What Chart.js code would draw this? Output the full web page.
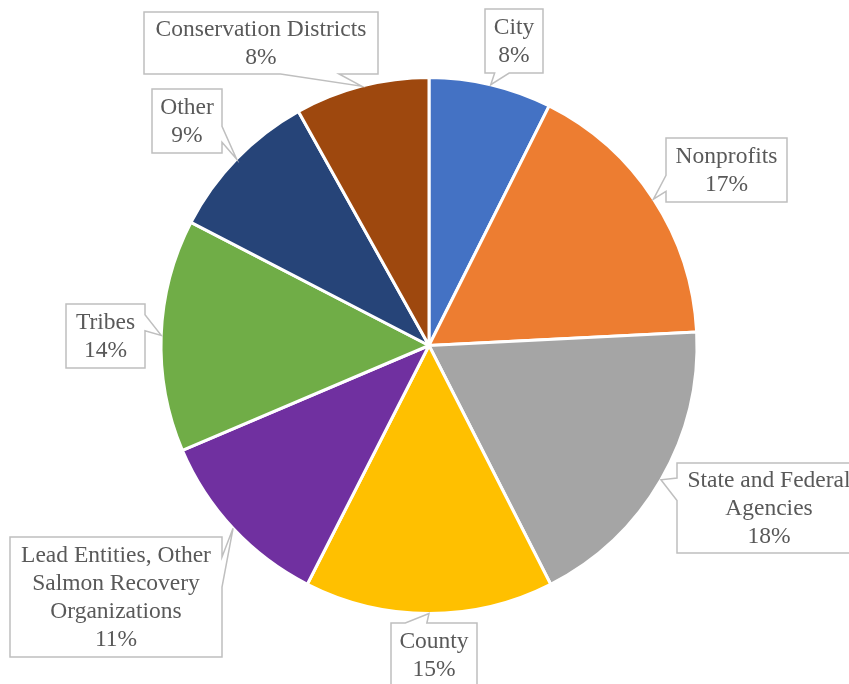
<!DOCTYPE html>
<html>
<head>
<meta charset="utf-8">
<script src="https://cdn.jsdelivr.net/npm/chart.js@4.4.1/dist/chart.umd.min.js"></script>
<style>
  html, body { margin: 0; padding: 0; background: #fff; }
  #fontProbe { position: absolute; left: -9999px; top: 0; font-family: 'Liberation Serif', serif; font-size: 24px; }
</style>
</head>
<body>
<div id="fontProbe">Conservation Districts 8%</div>
<canvas id="pieChart" width="849" height="684"></canvas>
<script>
// dados (fatias em sentido horário a partir do topo)
const categorias = ['City', 'Nonprofits', 'State and Federal Agencies', 'County',
    'Lead Entities, Other Salmon Recovery Organizations', 'Tribes', 'Other', 'Conservation Districts'];
const valores = [7.4, 16.8, 18.3, 15.0, 11.1, 14.0, 9.3, 8.1];
const rotulos = [
    ['City', '8%'],
    ['Nonprofits', '17%'],
    ['State and Federal', 'Agencies', '18%'],
    ['County', '15%'],
    ['Lead Entities, Other', 'Salmon Recovery', 'Organizations', '11%'],
    ['Tribes', '14%'],
    ['Other', '9%'],
    ['Conservation Districts', '8%']
];
const cores = ['#4472C4', '#ED7D31', '#A5A5A5', '#FFC000', '#7030A0', '#70AD47', '#264478', '#9E480E'];

// caixas dos rótulos (posição na tela); lado = borda do bico, quando fixada
const caixas = [
    { x: 485, y: 9, w: 58, h: 64 },
    { x: 666, y: 138, w: 121, h: 64 },
    { x: 677, y: 463, w: 184, h: 90 },
    { x: 391, y: 623, w: 86, h: 64 },
    { x: 10, y: 537, w: 212, h: 120, lado: 'right' },
    { x: 66, y: 304, w: 79, h: 64 },
    { x: 152, y: 89, w: 70, h: 64 },
    { x: 144, y: 12, w: 234, h: 62 }
];

const FONTE = '23.5px "Liberation Serif", "Times New Roman", serif';

// desenha caixa com "bico" apontando para a fatia (estilo Excel)
function drawCallout(ctx, b, tip, lines) {
    const L = b.x, R = b.x + b.w, T = b.y, B = b.y + b.h;
    const dx = (tip.x - (L + b.w / 2)) / b.w;
    const dy = (tip.y - (T + b.h / 2)) / b.h;
    let lado;
    if (b.lado) lado = b.lado;
    else if (Math.abs(dx) >= Math.abs(dy)) lado = dx > 0 ? 'right' : 'left';
    else lado = dy > 0 ? 'bottom' : 'top';

    const pts = [[L, T]];
    if (lado === 'top') {
        const a = dx < 0 ? 2 / 12 : 7 / 12;
        pts.push([L + b.w * a, T], [tip.x, tip.y], [L + b.w * (a + 0.25), T]);
    }
    pts.push([R, T]);
    if (lado === 'right') {
        const a = dy < 0 ? 2 / 12 : 7 / 12;
        pts.push([R, T + b.h * a], [tip.x, tip.y], [R, T + b.h * (a + 0.25)]);
    }
    pts.push([R, B]);
    if (lado === 'bottom') {
        const a = dx < 0 ? 2 / 12 : 7 / 12;
        pts.push([L + b.w * (a + 0.25), B], [tip.x, tip.y], [L + b.w * a, B]);
    }
    pts.push([L, B]);
    if (lado === 'left') {
        const a = dy < 0 ? 2 / 12 : 7 / 12;
        pts.push([L, T + b.h * (a + 0.25)], [tip.x, tip.y], [L, T + b.h * a]);
    }

    ctx.save();
    ctx.beginPath();
    pts.forEach((p, i) => i === 0 ? ctx.moveTo(p[0], p[1]) : ctx.lineTo(p[0], p[1]));
    ctx.closePath();
    ctx.fillStyle = '#ffffff';
    ctx.fill();
    ctx.strokeStyle = '#BFBFBF';
    ctx.lineWidth = 1.5;
    ctx.stroke();

    ctx.fillStyle = '#595959';
    ctx.font = FONTE;
    ctx.textAlign = 'center';
    ctx.textBaseline = 'middle';
    const lh = 28;
    const y0 = T + b.h / 2 - (lines.length - 1) * lh / 2 + 1;
    lines.forEach((t, i) => ctx.fillText(t, L + b.w / 2, y0 + i * lh));
    ctx.restore();
}

const calloutPlugin = {
    id: 'callouts',
    afterDatasetsDraw(chart) {
        const ctx = chart.ctx;
        const arcs = chart.getDatasetMeta(0).data;
        arcs.forEach((arc, i) => {
            const p = arc.getProps(['x', 'y', 'startAngle', 'endAngle', 'outerRadius'], true);
            const mid = (p.startAngle + p.endAngle) / 2;
            const tip = { x: p.x + Math.cos(mid) * p.outerRadius, y: p.y + Math.sin(mid) * p.outerRadius };
            drawCallout(ctx, caixas[i], tip, rotulos[i]);
        });
    }
};

function renderPie() {
    const ctx = document.getElementById('pieChart').getContext('2d');
    new Chart(ctx, {
        type: 'pie',
        data: {
            labels: categorias,
            datasets: [{
                data: valores,
                backgroundColor: cores,
                borderColor: '#ffffff',
                borderWidth: 3
            }]
        },
        options: {
            responsive: false,
            animation: false,
            layout: { padding: { top: 76, bottom: 69, left: 150, right: 141 } },
            plugins: {
                legend: { display: false },
                tooltip: { enabled: false }
            }
        },
        plugins: [calloutPlugin]
    });
}

document.fonts.load(FONTE).then(renderPie, renderPie);
</script>
</body>
</html>
